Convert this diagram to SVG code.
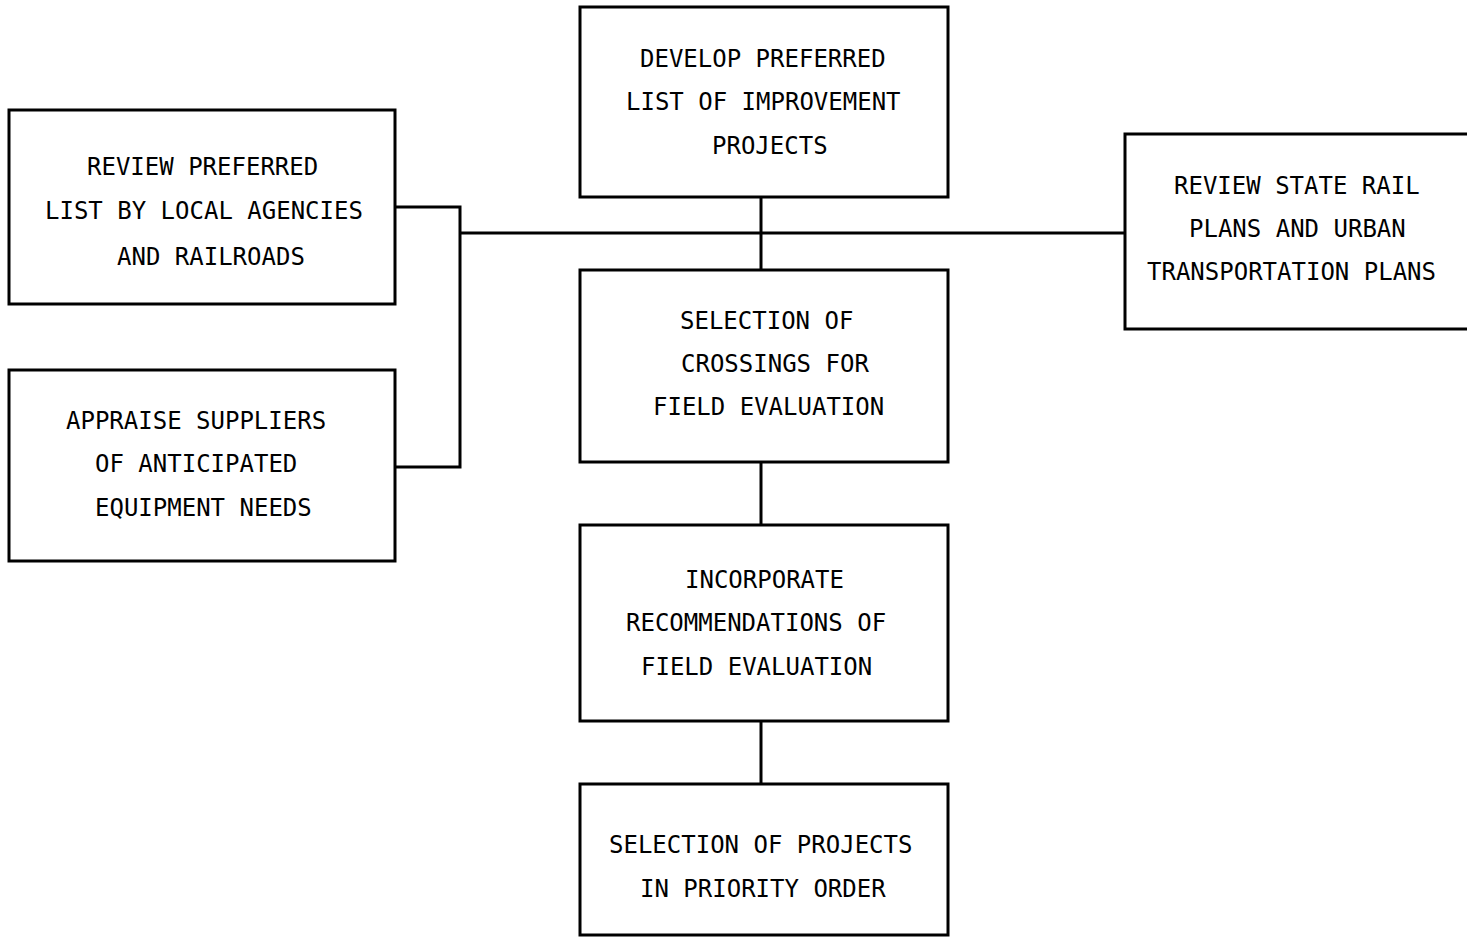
<svg xmlns="http://www.w3.org/2000/svg" width="1467" height="937" viewBox="0 0 1467 937">
  <style>
    .box { fill: none; stroke: #000; stroke-width: 3; }
    .link { fill: none; stroke: #000; stroke-width: 3; stroke-linejoin: miter; }
    .label { font-family: "DejaVu Sans Mono", "Liberation Mono", monospace; font-size: 24px; fill: #000; }
  </style>
  <rect width="1467" height="937" fill="#fff"/>

  <!-- connectors -->
  <g id="connectors">
    <path class="link" d="M761 197 V270"/>
    <path class="link" d="M460 233 H1125"/>
    <path class="link" d="M395 207 H460 V467 H395"/>
    <path class="link" d="M761 462 V525"/>
    <path class="link" d="M761 721 V784"/>
  </g>

  <g id="develop-list">
    <rect class="box" x="580" y="7" width="368" height="190"/>
    <text class="label" x="640" y="67">DEVELOP PREFERRED</text>
    <text class="label" x="626" y="110">LIST OF IMPROVEMENT</text>
    <text class="label" x="712" y="154">PROJECTS</text>
  </g>

  <g id="review-local">
    <rect class="box" x="9" y="110" width="386" height="194"/>
    <text class="label" x="87" y="175">REVIEW PREFERRED</text>
    <text class="label" x="45" y="219">LIST BY LOCAL AGENCIES</text>
    <text class="label" x="117" y="265">AND RAILROADS</text>
  </g>

  <g id="appraise-suppliers">
    <rect class="box" x="9" y="370" width="386" height="191"/>
    <text class="label" x="66" y="429">APPRAISE SUPPLIERS</text>
    <text class="label" x="95" y="472">OF ANTICIPATED</text>
    <text class="label" x="95" y="516">EQUIPMENT NEEDS</text>
  </g>

  <g id="review-state">
    <path class="box" d="M1470 134 H1125 V329 H1470"/>
    <text class="label" x="1174" y="194">REVIEW STATE RAIL</text>
    <text class="label" x="1189" y="237">PLANS AND URBAN</text>
    <text class="label" x="1147" y="280">TRANSPORTATION PLANS</text>
  </g>

  <g id="select-crossings">
    <rect class="box" x="580" y="270" width="368" height="192"/>
    <text class="label" x="680" y="329">SELECTION OF</text>
    <text class="label" x="681" y="372">CROSSINGS FOR</text>
    <text class="label" x="653" y="415">FIELD EVALUATION</text>
  </g>

  <g id="incorporate">
    <rect class="box" x="580" y="525" width="368" height="196"/>
    <text class="label" x="685" y="588">INCORPORATE</text>
    <text class="label" x="626" y="631">RECOMMENDATIONS OF</text>
    <text class="label" x="641" y="675">FIELD EVALUATION</text>
  </g>

  <g id="select-projects">
    <rect class="box" x="580" y="784" width="368" height="151"/>
    <text class="label" x="609" y="853">SELECTION OF PROJECTS</text>
    <text class="label" x="640" y="897">IN PRIORITY ORDER</text>
  </g>
</svg>
